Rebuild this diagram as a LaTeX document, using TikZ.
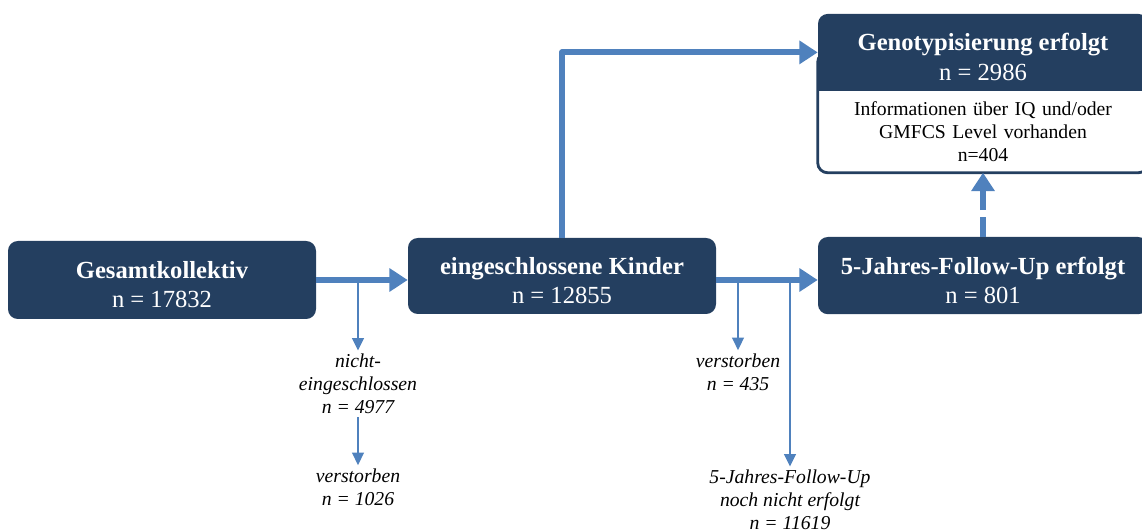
\documentclass[tikz,border=0pt]{standalone}
\usepackage{fontspec}
\setmainfont{Liberation Serif}
\usetikzlibrary{arrows.meta,positioning,backgrounds}
\definecolor{navy}{RGB}{36,63,96}
\definecolor{arrowblue}{RGB}{79,129,189}
\newcommand{\boxhead}[1]{\rule{0pt}{19pt}\textbf{#1}}

\begin{document}
\begin{tikzpicture}[
	box/.style={fill=navy, text=white, rounded corners=7pt, align=center, inner sep=0pt,
		font=\fontsize{17.5}{21}\selectfont},
	infobox/.style={align=center, inner sep=0pt, font=\fontsize{14}{16.5}\selectfont},
	note/.style={align=center, inner sep=2pt, font=\fontsize{14}{16.5}\selectfont\itshape},
	mainarrow/.style={draw=arrowblue, line width=4.3pt, -{Triangle[length=13pt,width=16pt]}},
	sidearrow/.style={draw=arrowblue, line width=2.1pt, -{Triangle[length=9pt,width=8pt]}},
	line join=round
	]
	\useasboundingbox (0,0) rectangle (28.55,13.25);
	
	% Boxes
	\node[box, minimum width=7.7cm, minimum height=1.95cm] (gesamt) at (4.05,6.25)
		{\boxhead{Gesamtkollektiv}\\n = 17832};
	\node[box, minimum width=7.7cm, minimum height=1.9cm] (kinder) at (14.05,6.35)
		{\boxhead{eingeschlossene Kinder}\\n = 12855};
	\node[box, minimum width=8.25cm, minimum height=1.93cm] (followup) at (24.575,6.36)
		{\boxhead{5-Jahres-Follow-Up erfolgt}\\n = 801};
	\node[box, minimum width=8.25cm, minimum height=1.925cm] (geno) at (24.575,11.94)
		{\boxhead{Genotypisierung erfolgt}\\n = 2986};
	\node[infobox, text width=8.25cm, minimum height=2.025cm, anchor=north] (info) at (geno.south)
		{Informationen über IQ und/oder\\GMFCS Level vorhanden\\n=404};
	
	% Frame of the info part
	\begin{scope}[on background layer]
		\draw[navy, line width=2pt, fill=white, rounded corners=7pt] (geno.west) rectangle (info.south east);
		\fill[navy] (geno.west) rectangle (geno.south east);
	\end{scope}
	
	% Notes
	\node[note] (nichtein) at (8.95,3.65) {nicht-\\eingeschlossen\\n = 4977};
	\node[note] (tot1) at (8.95,1.075) {verstorben\\n = 1026};
	\node[note] (tot2) at (18.45,3.95) {verstorben\\n = 435};
	\node[note] (offen) at (19.75,0.75) {5-Jahres-Follow-Up\\noch nicht erfolgt\\n = 11619};
	
	% Main arrows
	\draw[mainarrow] (gesamt.east) -- (gesamt.east -| kinder.west);
	\draw[mainarrow] ([yshift=-0.1cm]kinder.east) -- ([yshift=-0.1cm]kinder.east -| followup.west);
	\draw[mainarrow] (kinder.north) |- (geno.west);
	\draw[mainarrow, dash pattern=on 14pt off 5pt] (followup.north) -- (info.south);
	
	% Side arrows
	\draw[sidearrow] (nichtein.north |- gesamt.east) -- (nichtein.north);
	\draw[sidearrow] (nichtein.south) -- (tot1.north);
	\draw[sidearrow] ([yshift=-0.1cm]tot2.north |- kinder.east) -- (tot2.north);
	\draw[sidearrow] ([yshift=-0.1cm]offen.north |- kinder.east) -- (offen.north);
\end{tikzpicture}
\end{document}
